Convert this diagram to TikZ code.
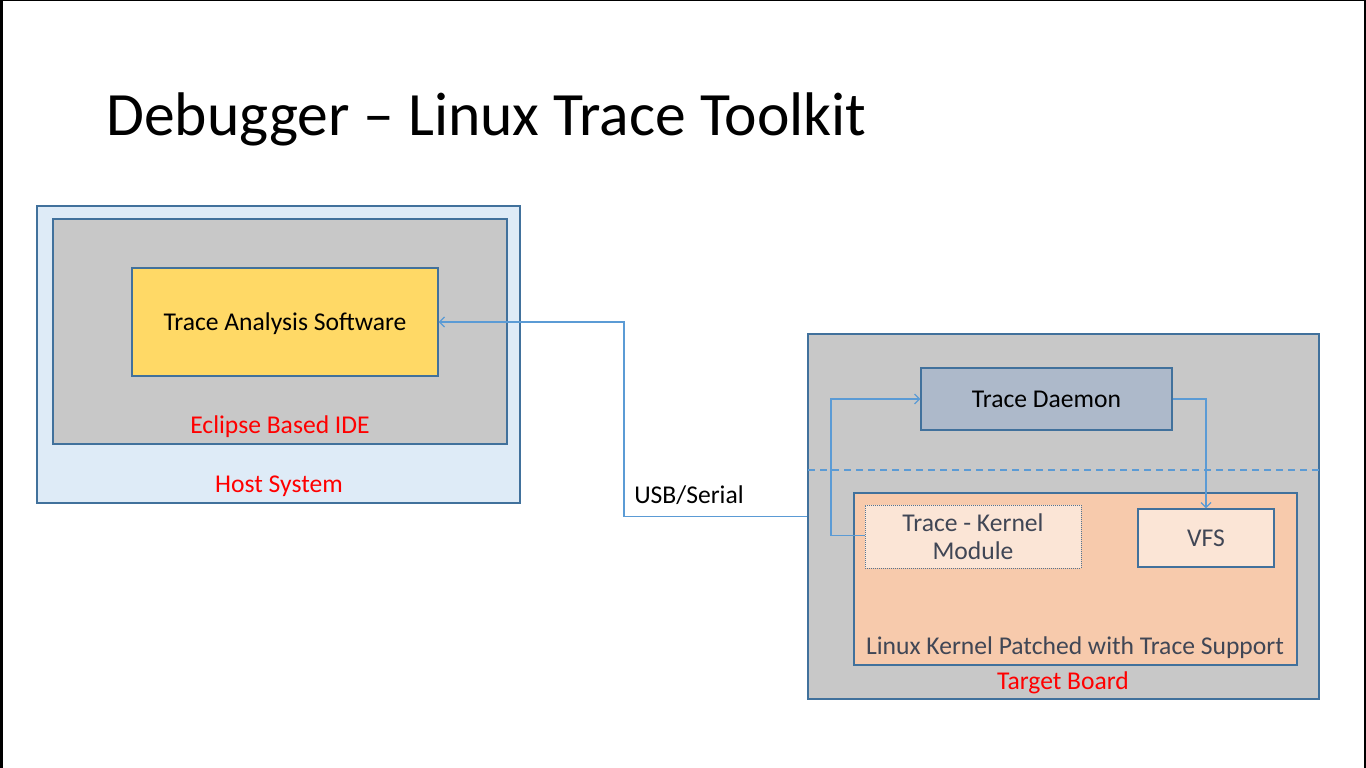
\documentclass[tikz,border=0pt]{standalone}
\usepackage{fontspec}
\setmainfont{Carlito}
\usetikzlibrary{arrows.meta}
\definecolor{bordblue}{HTML}{41719C}
\definecolor{connblue}{HTML}{5B9BD5}
\definecolor{hostfill}{HTML}{DEEBF7}
\definecolor{grayfill}{HTML}{C8C8C8}
\definecolor{yellowfill}{HTML}{FFD966}
\definecolor{daemonfill}{HTML}{ADB9CA}
\definecolor{kernelfill}{HTML}{F7CAAC}
\definecolor{lightpeach}{HTML}{FBE5D6}
\definecolor{darktext}{HTML}{404655}
\definecolor{redtext}{HTML}{FF0000}
\tikzset{
  box/.style={draw=bordblue, line width=1.3pt, rectangle, inner sep=0pt},
  txtfont/.style={font=\fontsize{25.6}{30}\selectfont, inner sep=0pt},
  txt/.style={txtfont, text height=16.5pt, text depth=0pt},
  redlbl/.style={txt, text=redtext},
  conn/.style={draw=connblue, line width=1.3pt, -{Straight Barb[length=5pt,width=10pt,line width=1.2pt]}},
}
\begin{document}
\begin{tikzpicture}[x=1pt,y=-1pt]
\useasboundingbox (0,0) rectangle (1366,768);
\fill[white] (0,0) rectangle (1366,768);
% slide border
\fill[black] (0,0) rectangle (2.5,768);
\fill[black] (0,0) rectangle (1366,1.5);
\fill[black] (1363.5,0) rectangle (1366,768);
% title
\node[anchor=base west, inner sep=0pt, font=\fontsize{61.6}{70}\selectfont] (title) at (106,135) {Debugger – Linux Trace Toolkit};
% host side
\node[box, fill=hostfill, minimum width=483pt, minimum height=297pt] (host) at (278.5,354.5) {};
\node[box, fill=grayfill, minimum width=454pt, minimum height=225pt] (ide) at (280,331.5) {};
\node[box, fill=yellowfill, minimum width=306pt, minimum height=108pt, txt] (tas) at (285,322) {Trace Analysis Software};
\node[redlbl] (idelbl) at (280,425) {Eclipse Based IDE};
\node[redlbl] (hostlbl) at (279,484) {Host System};
% target side
\node[box, fill=grayfill, minimum width=511pt, minimum height=365pt] (tb) at (1063.5,516.5) {};
\node[box, fill=daemonfill, minimum width=251pt, minimum height=62pt, txt] (td) at (1046.5,399) {Trace Daemon};
\coordinate (dl) at (808,470);
\coordinate (dr) at (1319,470);
\draw[connblue, line width=1.3pt, dash pattern=on 7pt off 5pt] (dl) -- (dr);
\node[box, fill=kernelfill, minimum width=443pt, minimum height=172pt] (lk) at (1075.5,579) {};
\node[rectangle, draw=bordblue!70!gray, line width=1pt, dash pattern=on 1pt off 1pt, fill=lightpeach, minimum width=216pt, minimum height=63pt, txtfont, text=darktext, align=center, inner sep=0pt] (tkm) at (973,536.5) {Trace - Kernel\\[-1.5pt]Module};
\node[box, fill=lightpeach, minimum width=136pt, minimum height=58pt, txt, text=darktext] (vfs) at (1206,538) {VFS};
\node[txt, text=darktext] (lklbl) at (1075,646) {Linux Kernel Patched with Trace Support};
\node[redlbl] (tblbl) at (1063,681) {Target Board};
% connectors
\coordinate (b1) at (624,516.5);
\draw[conn] (tb.west) -- (b1) |- (tas.east);
\node[txtfont, anchor=base] (usb) at (689,503) {USB/Serial};
\coordinate (b2) at (831,535.5);
\draw[conn] (tkm.west |- b2) -- (b2) |- (td.west);
\draw[conn] (td.east) -| (vfs.north);
\end{tikzpicture}
\end{document}
